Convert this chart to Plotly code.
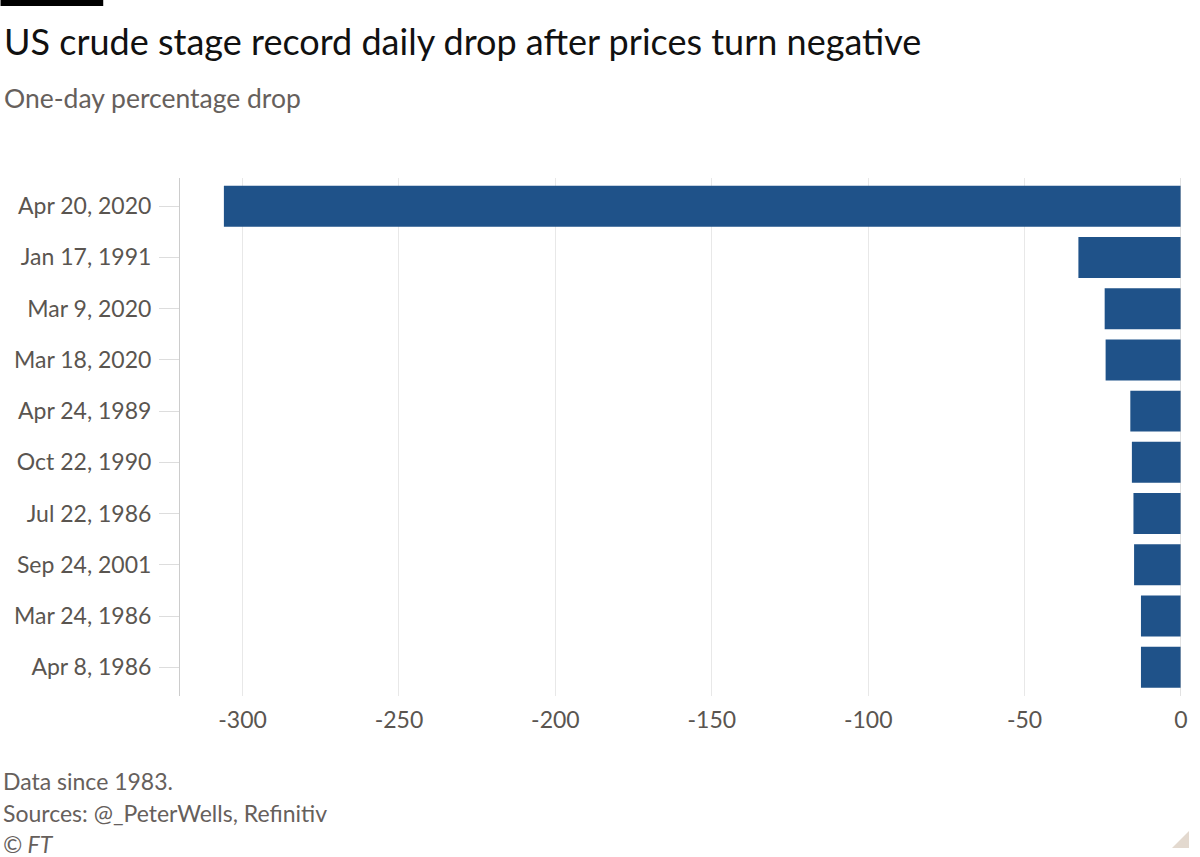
import plotly.graph_objects as go

dates = ["Apr 20, 2020", "Jan 17, 1991", "Mar 9, 2020", "Mar 18, 2020", "Apr 24, 1989",
         "Oct 22, 1990", "Jul 22, 1986", "Sep 24, 2001", "Mar 24, 1986", "Apr 8, 1986"]
drops = [-305.97, -32.8, -24.4, -24.1, -16.2, -15.7, -15.2, -15.0, -12.8, -12.8]
x_ticks = [-300, -250, -200, -150, -100, -50, 0]

W, H = 1200, 857
L, R, T, B = 180, 16, 178, 161
FONT = "Lato"
GREY = "#66605c"
TICKGREY = "#5a5550"

def px(x):
    return (x - L) / (W - L - R)

def py(y):
    return (H - B - y) / (H - T - B)

fig = go.Figure(go.Bar(
    x=drops, y=dates, orientation="h",
    marker=dict(color="#1f5289", line=dict(width=0)),
    hoverinfo="x+y",
))

fig.update_layout(
    width=W, height=H,
    margin=dict(l=L, r=R, t=T, b=B, pad=0),
    paper_bgcolor="white", plot_bgcolor="white",
    showlegend=False,
    bargap=0.2,
    font=dict(family=FONT, color=GREY, size=23),
    xaxis=dict(
        range=[-320, 0], tickvals=x_ticks, ticktext=[str(v) for v in x_ticks],
        showgrid=True, gridcolor="#e8e8e8", gridwidth=1,
        zeroline=False, showline=False,
        ticks="outside", ticklen=3, tickcolor="rgba(0,0,0,0)", tickwidth=1,
        tickfont=dict(family=FONT, size=23, color=TICKGREY),
    ),
    yaxis=dict(
        type="category", categoryorder="array", categoryarray=dates,
        range=[9.56, -0.55],
        showgrid=False, zeroline=False,
        showline=True, linecolor="#cccccc", linewidth=1,
        ticks="outside", ticklen=20, tickcolor="#dddddd", tickwidth=1,
        ticklabelstandoff=3,
        tickfont=dict(family=FONT, size=23, color=TICKGREY),
    ),
)

shapes = [
    # zero line
    dict(type="line", xref="x", yref="paper", x0=0, x1=0, y0=0, y1=1.0,
         line=dict(color="#c4c4c4", width=1), layer="above"),
    # top black bar
    dict(type="rect", xref="paper", yref="paper", x0=px(0), x1=px(103), y0=py(6), y1=py(0),
         fillcolor="black", line=dict(width=0)),
    # corner triangle
    dict(type="path", xref="paper", yref="paper",
         path=f"M {px(1175)} {py(848)} L {px(1192)} {py(848)} L {px(1192)} {py(831)} Z",
         fillcolor="#e3d9cf", line=dict(width=0)),
]
fig.update_layout(shapes=shapes)

annotations = [
    dict(text="US crude stage record daily drop after prices turn negative",
         x=px(1), y=py(41), xref="paper", yref="paper", xanchor="left", yanchor="middle",
         showarrow=False, font=dict(family=FONT, size=36, color="#111111")),
    dict(text="One-day percentage drop",
         x=px(1), y=py(98), xref="paper", yref="paper", xanchor="left", yanchor="middle",
         showarrow=False, font=dict(family=FONT, size=26.5, color=GREY)),
    dict(text="Data since 1983.",
         x=px(0), y=py(781), xref="paper", yref="paper", xanchor="left", yanchor="middle",
         showarrow=False, font=dict(family=FONT, size=23, color=GREY)),
    dict(text="Sources: @_PeterWells, Refinitiv",
         x=px(0), y=py(813), xref="paper", yref="paper", xanchor="left", yanchor="middle",
         showarrow=False, font=dict(family=FONT, size=23, color=GREY)),
    dict(text="<i>© FT</i>",
         x=px(0), y=py(844), xref="paper", yref="paper", xanchor="left", yanchor="middle",
         showarrow=False, font=dict(family=FONT, size=23, color=GREY)),
]
fig.update_layout(annotations=annotations)

fig.write_html("out.html")
